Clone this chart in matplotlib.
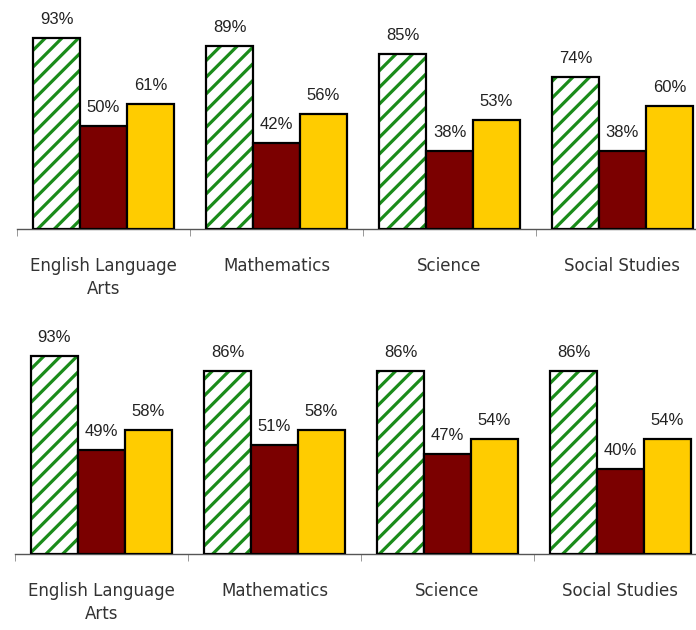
import matplotlib.pyplot as plt
import numpy as np

subjects = ["English Language\nArts", "Mathematics", "Science", "Social Studies"]

# top panel
top_green = [93, 89, 85, 74]
top_red = [50, 42, 38, 38]
top_yellow = [61, 56, 53, 60]

# bottom panel
bot_green = [93, 86, 86, 86]
bot_red = [49, 51, 47, 40]
bot_yellow = [58, 58, 54, 54]

plt.rcParams['hatch.linewidth'] = 2.3

fig = plt.figure(figsize=(6.96, 6.30), dpi=100)

group_px = 173.0
bar_w = 47 / group_px


def draw_panel(ax, green, red, yellow, ymax):
    x = np.arange(len(subjects))
    # hatched green bars: stripes first, outline on top
    ax.bar(x - bar_w, green, bar_w, color="white", edgecolor="#1a8c1a", hatch="//", linewidth=0, zorder=2)
    ax.bar(x - bar_w, green, bar_w, fill=False, edgecolor="black", linewidth=1.6, zorder=3)
    ax.bar(x, red, bar_w, color="#7b0000", edgecolor="black", linewidth=1.6, zorder=3)
    ax.bar(x + bar_w, yellow, bar_w, color="#ffcc00", edgecolor="black", linewidth=1.6, zorder=3)
    for off, vals in [(-bar_w, green), (0, red), (bar_w, yellow)]:
        for xi, v in zip(x, vals):
            ax.annotate(f"{v}%", (xi + off, v), xytext=(0, 8), textcoords="offset points",
                        ha="center", va="bottom", fontsize=12, family="Liberation Sans", color="#222222")
    ax.set_ylim(0, ymax)
    for s in ["top", "left", "right"]:
        ax.spines[s].set_visible(False)
    ax.spines["bottom"].set_color("#555555")
    ax.spines["bottom"].set_linewidth(1.0)
    ax.set_yticks([])
    ax.set_xticks(x)
    ax.set_xticklabels(subjects, fontsize=12, family="DejaVu Sans", color="#333333", linespacing=1.4)
    ax.tick_params(axis="x", which="major", length=0, pad=20)
    ax.set_xticks(np.arange(len(subjects)) - 0.5, minor=True)
    ax.tick_params(axis="x", which="minor", length=5, color="#888888", direction="out")


W, H = 696.0, 630.0

# top panel: left edge 17px, baseline 229px
ax1 = fig.add_axes([17 / W, 1 - 229 / H, 1 - 17 / W, 229 / H])
draw_panel(ax1, top_green, top_red, top_yellow, 229 / 2.054)
ax1.set_xlim(-0.5, -0.5 + (W - 17) / group_px)

# bottom panel: left edge 15px, baseline 554px
ax2 = fig.add_axes([15 / W, 1 - 554 / H, 1 - 15 / W, 224 / H])
draw_panel(ax2, bot_green, bot_red, bot_yellow, 224 / 2.13)
ax2.set_xlim(-0.5, -0.5 + (W - 15) / group_px)

fig.savefig("out.png", dpi=100)
